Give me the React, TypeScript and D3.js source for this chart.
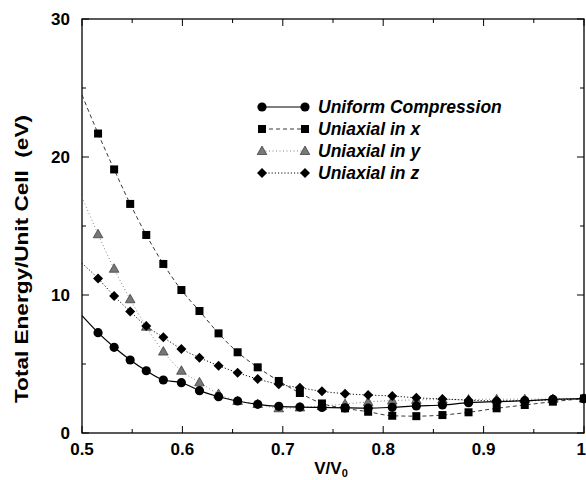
import React, { useEffect, useRef } from "react";
import * as d3 from "d3";

// V/V0 values of the plotted points
const vRatio = [
  0.516, 0.532, 0.548, 0.564, 0.581, 0.599, 0.617, 0.636, 0.655, 0.675, 0.696,
  0.717, 0.739, 0.762, 0.785, 0.809, 0.833, 0.859, 0.885, 0.913, 0.941, 0.969, 1.0,
];

// total energy (eV) per series
const uniform = [
  7.27, 6.21, 5.29, 4.51, 3.84, 3.65, 3.07, 2.63, 2.32, 2.08, 1.93,
  1.88, 1.85, 1.82, 1.8, 1.86, 1.96, 2.03, 2.2, 2.27, 2.34, 2.44, 2.49,
];
const uniaxialX = [
  21.7, 19.1, 16.6, 14.35, 12.25, 10.36, 8.84, 7.22, 5.85, 4.76, 3.77,
  2.9, 2.14, 1.79, 1.54, 1.25, 1.22, 1.3, 1.5, 1.79, 2.03, 2.27, 2.5,
];
const uniaxialY = [
  14.4, 11.9, 9.69, 7.7, 5.9, 4.51, 3.67, 2.83, 2.32, 2.1, 1.79,
  1.85, 1.95, 2.1, 2.25, 2.35, 2.4, 2.42, 2.43, 2.45, 2.45, 2.47, 2.5,
];
const uniaxialZ = [
  11.2, 9.93, 8.8, 7.75, 6.93, 6.09, 5.46, 4.88, 4.37, 3.91, 3.53,
  3.28, 3.02, 2.85, 2.75, 2.68, 2.55, 2.47, 2.38, 2.33, 2.33, 2.4, 2.5,
];

// fitted curves start at the left edge (V/V0 = 0.5)
const curveStart = [8.5, 24.5, 17.1, 12.3];

const seriesNames = [
  "Uniform Compression",
  "Uniaxial in x",
  "Uniaxial in y",
  "Uniaxial in z",
];

const xTicks = [0.5, 0.6, 0.7, 0.8, 0.9, 1.0];
const yTicks = [0, 10, 20, 30];

const App = () => {
  const svgRef = useRef<SVGSVGElement | null>(null);

  useEffect(() => {
    const svg = d3.select(svgRef.current);
    svg.selectAll("*").remove();

    const left = 82;
    const right = 584;
    const top = 19;
    const bottom = 433;
    const font = "'Liberation Sans', Arial, Helvetica, sans-serif";

    const x = d3.scaleLinear().domain([0.5, 1.0]).range([left, right]);
    const y = d3.scaleLinear().domain([0, 30]).range([bottom, top]);

    const styles = [
      { dash: null, color: "#000", width: 1.2, marker: "circle", fill: "#000" },
      { dash: "4,3", color: "#222", width: 0.9, marker: "square", fill: "#000" },
      { dash: "1,2.5", color: "#777", width: 0.9, marker: "triangle", fill: "#777" },
      { dash: "1.2,2", color: "#111", width: 1, marker: "diamond", fill: "#000" },
    ];
    const allSeries = [uniform, uniaxialX, uniaxialY, uniaxialZ];

    // frame
    svg
      .append("rect")
      .attr("x", left)
      .attr("y", top)
      .attr("width", right - left)
      .attr("height", bottom - top)
      .attr("fill", "none")
      .attr("stroke", "#000")
      .attr("stroke-width", 1.3);

    // ticks on all four sides, every 0.05 and every 5
    const xt = d3.range(0.5, 1.0001, 0.05);
    const yt = d3.range(0, 30.001, 5);
    const g = svg.append("g").attr("stroke", "#000").attr("stroke-width", 1);
    xt.forEach((v, i) => {
      const len = i % 2 === 0 ? 7 : 4;
      g.append("line").attr("x1", x(v)).attr("x2", x(v)).attr("y1", bottom).attr("y2", bottom - len);
      g.append("line").attr("x1", x(v)).attr("x2", x(v)).attr("y1", top).attr("y2", top + len);
    });
    yt.forEach((v, i) => {
      const len = i % 2 === 0 ? 7 : 4;
      g.append("line").attr("x1", left).attr("x2", left + len).attr("y1", y(v)).attr("y2", y(v));
      g.append("line").attr("x1", right).attr("x2", right - len).attr("y1", y(v)).attr("y2", y(v));
    });

    // tick labels
    svg
      .selectAll(".xl")
      .data(xTicks)
      .enter()
      .append("text")
      .attr("x", (d) => (d === 1 ? 586 : x(d)))
      .attr("y", 455)
      .attr("text-anchor", (d) => (d === 1 ? "end" : "middle"))
      .style("font", `bold 17px ${font}`)
      .text((d) => (d === 1 ? "1" : d.toFixed(1)));

    svg
      .selectAll(".yl")
      .data(yTicks)
      .enter()
      .append("text")
      .attr("x", 70)
      .attr("y", (d) => y(d) + 6)
      .attr("text-anchor", "end")
      .style("font", `bold 17px ${font}`)
      .text((d) => d);

    // axis titles
    const xt2 = svg
      .append("text")
      .attr("x", 331)
      .attr("y", 474)
      .attr("text-anchor", "middle")
      .style("font", `bold 17px ${font}`);
    xt2.append("tspan").text("V/V");
    xt2.append("tspan").attr("dy", 3).style("font-size", "11px").text("0");

    svg
      .append("text")
      .attr("transform", "translate(28, 259) rotate(-90)")
      .attr("text-anchor", "middle")
      .attr("textLength", 288)
      .attr("lengthAdjust", "spacingAndGlyphs")
      .style("font", `bold 18px ${font}`)
      .style("white-space", "pre")
      .text("Total Energy/Unit Cell  (eV)");

    const line = d3
      .line<[number, number]>()
      .x((d) => x(d[0]))
      .y((d) => y(d[1]))
      .curve(d3.curveMonotoneX);

    const drawMarker = (
      sel: d3.Selection<SVGGElement, unknown, null, undefined>,
      kind: string,
      cx: number,
      cy: number,
      fill: string
    ) => {
      if (kind === "circle") {
        sel.append("circle").attr("cx", cx).attr("cy", cy).attr("r", 4.6).attr("fill", fill);
      } else if (kind === "square") {
        sel.append("rect").attr("x", cx - 4).attr("y", cy - 4).attr("width", 8).attr("height", 8).attr("fill", fill);
      } else if (kind === "triangle") {
        sel
          .append("path")
          .attr("d", `M${cx},${cy - 5}L${cx + 4.8},${cy + 3.5}L${cx - 4.8},${cy + 3.5}Z`)
          .attr("fill", fill)
          .attr("stroke", "#333")
          .attr("stroke-width", 0.7);
      } else {
        sel
          .append("path")
          .attr("d", `M${cx},${cy - 5}L${cx + 5},${cy}L${cx},${cy + 5}L${cx - 5},${cy}Z`)
          .attr("fill", fill);
      }
    };

    // curves and markers, drawn from back (y) to front (uniform)
    const order = [2, 1, 3, 0];
    const plot = svg.append("g");
    order.forEach((si) => {
      const st = styles[si];
      const pts: [number, number][] = [[0.5, curveStart[si]]].concat(
        vRatio.map((v, i) => [v, allSeries[si][i]] as [number, number])
      ) as [number, number][];
      plot
        .append("path")
        .attr("d", line(pts))
        .attr("fill", "none")
        .attr("stroke", st.color)
        .attr("stroke-width", st.width)
        .attr("stroke-dasharray", st.dash);
      const mg = plot.append("g");
      vRatio.forEach((v, i) => drawMarker(mg, st.marker, x(v), y(allSeries[si][i]), st.fill));
    });

    // legend
    const lg = svg.append("g");
    seriesNames.forEach((name, i) => {
      const st = styles[i];
      const ly = 107 + i * 22;
      lg.append("line")
        .attr("x1", 262)
        .attr("x2", 305)
        .attr("y1", ly)
        .attr("y2", ly)
        .attr("stroke", st.color)
        .attr("stroke-width", st.width)
        .attr("stroke-dasharray", st.dash);
      drawMarker(lg, st.marker, 262, ly, st.fill);
      drawMarker(lg, st.marker, 305, ly, st.fill);
      lg.append("text")
        .attr("x", 318)
        .attr("y", ly + 6)
        .style("font", `italic bold 17.5px ${font}`)
        .text(name);
    });
  }, []);

  return (
    <svg
      ref={svgRef}
      width={586}
      height={480}
      style={{ position: "absolute", left: 0, top: 0, background: "#fff" }}
    />
  );
};

export default App;
